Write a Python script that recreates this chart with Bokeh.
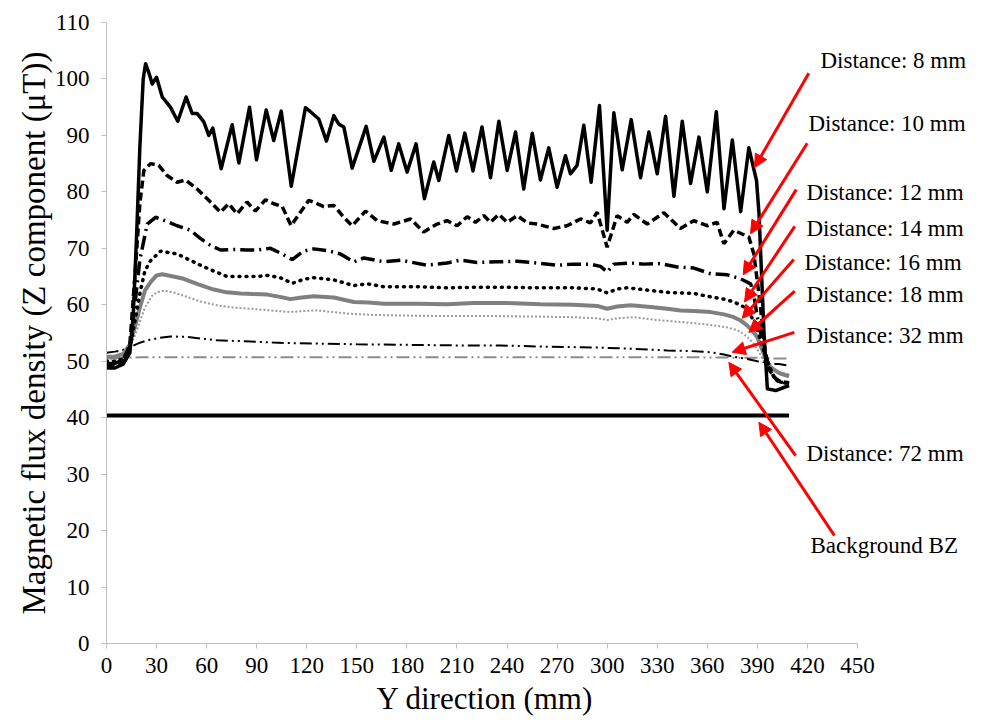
from bokeh.plotting import figure
from bokeh.models import Range1d, SingleIntervalTicker, Arrow, NormalHead, ColumnDataSource, Title
from bokeh.core.properties import value
from bokeh.embed import file_html
from bokeh.resources import INLINE

# ---- measured Z-component flux density (uT) along the Y direction (mm) ----
x_8mm = [0, 5, 10, 14, 16, 18, 20, 22, 23.4, 25.5, 27.4, 30, 33.4, 38.3, 42.7, 47.7, 51.3, 54.3,
         58.3, 61.3, 63.7, 68.7, 75.3, 79.3, 85.7, 89.9, 95.7, 100.2, 104.7, 110.7, 119.2, 122.2,
         127.2, 131.8, 136.2, 139.2, 142.2, 147.2, 155.6, 160.2, 166.2, 170.6, 175.1, 180.1, 185.5,
         190.5, 196.1, 199.1, 205.1, 209.7, 214.7, 219.6, 225.0, 230.1, 235.1, 240.1, 245.1, 250.0,
         255.1, 260.0, 265.0, 270.0, 275.0, 278.0, 282.0, 286.0, 290.4, 295.4, 300.0, 304.0, 309.0,
         314.4, 320.0, 325.0, 330.0, 335.0, 340.0, 345.0, 350.0, 355.0, 360.0, 365.4, 370.0, 375.0,
         380.0, 384.9, 389.5, 391.0, 392.5, 394.0, 396.0, 401.0, 409.0]
y_8mm = [48.8, 48.8, 49.5, 51.5, 58, 72, 88, 100, 102.7, 101, 99.1, 100.3, 96.8, 95.0, 92.5, 96.8, 93.9, 93.9,
         92.4, 90.0, 91.3, 84.1, 91.9, 85.1, 95.0, 85.7, 94.5, 89.1, 94.3, 81.0, 94.9, 94.2,
         92.9, 89.0, 93.5, 92.0, 91.5, 84.2, 91.6, 85.4, 89.7, 83.8, 88.5, 83.5, 88.5,
         78.8, 85.3, 82.0, 90.0, 83.7, 90.4, 83.7, 91.5, 82.5, 92.5, 83.8, 90.6, 80.5,
         90.4, 82.1, 87.8, 80.8, 86.4, 83.2, 84.7, 91.8, 81.7, 95.3, 73.2, 94.0, 83.9,
         92.8, 82.5, 90.6, 83.2, 93.4, 79.2, 92.5, 81.5, 89.7, 80.0, 94.2, 77.0, 89.2,
         76.5, 87.8, 82.0, 76.1, 65.5, 54.9, 45.1, 44.8, 45.7]

x_10mm = [0, 5, 10, 14, 17, 20, 22.4, 26.4, 31.3, 36.3, 42.3, 47.3, 54.3, 62.3, 68.3, 73.2, 78.2, 84.2,
          89.2, 95.3, 100.2, 105.3, 110.6, 116.2, 121.2, 130.2, 136.2, 142.2, 147.2, 155.2, 162.2,
          172.2, 182.2, 190.1, 198.1, 204.1, 210.1, 216.1, 221.1, 226.1, 230.1, 235.1, 240.1, 246.1,
          252.1, 258.1, 268.0, 276.0, 284.0, 290.0, 294.0, 300.0, 306.0, 312.0, 316.0, 324.0, 334.0,
          343.9, 351.9, 359.9, 365.9, 369.9, 375.9, 384.9, 387.9, 389.9, 391.9, 394.0, 397.0, 402.0, 409.0]
y_10mm = [49.3, 49.3, 50.0, 53.0, 65.0, 78.0, 83.8, 85.0, 84.7, 82.9, 81.7, 82.1, 80.5, 78.2, 76.4, 77.9, 76.1, 78.2,
          76.6, 78.6, 77.9, 77.4, 74.0, 76.4, 78.5, 77.4, 77.6, 75.5, 74.0, 76.6, 74.9,
          74.3, 75.2, 72.9, 74.3, 74.9, 74.0, 75.6, 74.6, 75.8, 74.6, 76.0, 74.6, 75.8,
          74.5, 74.3, 73.5, 74.0, 75.2, 74.5, 76.4, 70.2, 75.8, 74.6, 76.0, 74.3, 76.3,
          73.5, 74.9, 74.0, 74.6, 70.8, 73.2, 72.0, 69.0, 64.3, 59.6, 53.0, 48.5, 46.5, 46.2]

x_12mm = [0, 5, 10, 14, 17, 20, 24.4, 29.4, 36, 42.3, 50.3, 56, 62.3, 68.3, 76, 84.2, 90.3, 98.3, 105.3,
          111.3, 118, 124.2, 132.2, 140.2, 148.2, 154.2, 166.2, 176.2, 192.1, 204.1, 212, 222, 234, 246,
          258, 270, 280, 290, 296, 300, 304, 314, 322, 332, 342, 352, 362, 372, 380, 386, 388, 390, 392,
          394, 397, 400, 404, 409]
y_12mm = [49.6, 49.6, 50.3, 52.5, 60.0, 68.0, 74.3, 75.5, 74.8, 74.0, 73.2, 71.8, 70.5, 69.7, 69.8, 69.7, 69.7, 70.0, 69.0,
          68.0, 69.5, 69.9, 69.6, 69.0, 67.6, 68.3, 67.6, 67.9, 67.0, 67.4, 67.9, 67.5, 67.6, 67.7,
          67.4, 67.0, 67.2, 67.2, 66.8, 65.8, 67.2, 67.4, 67.2, 67.3, 66.7, 66.5, 65.5, 65.3, 64.6, 63.7, 61.5, 57.8, 55.0,
          51.9, 49.0, 47.2, 46.3, 46.0]

x_14mm = [0, 5, 10, 14, 17, 20, 23, 26.4, 32.4, 42.3, 56.3, 64, 72.3, 82, 90.3, 96.3, 104, 111.3, 118,
          124.2, 136.2, 148.2, 156.2, 166.2, 186.1, 204.1, 220, 240, 260, 280, 294, 300, 306, 312, 324,
          336, 344, 352, 362, 370, 376, 382, 385, 387.9, 390, 391.9, 395.8, 399.9, 404, 409]
y_14mm = [50.0, 50.0, 50.5, 52.5, 57.0, 62.0, 66.0, 67.8, 69.5, 69.0, 67.0, 66.0, 65.0, 65.0, 65.0, 65.2, 64.8, 63.8, 64.5,
          64.8, 64.4, 63.4, 63.7, 63.2, 63.2, 63.0, 63.1, 63.1, 63.0, 63.0, 62.8, 62.1, 62.8, 63.0, 62.6,
          62.2, 62.1, 62.0, 61.4, 61.0, 60.5, 59.6, 58.5, 57.2, 55.5, 53.7, 50.1, 47.2, 46.3, 46.0]

x_16mm = [0, 5, 10, 14, 17, 20, 23, 26.4, 30, 33.4, 40, 46.3, 55, 64.3, 72, 80.3, 88, 96.3, 104, 110.2,
          117, 124.2, 136.2, 148.2, 157, 166.2, 186.1, 204.1, 220, 240, 260, 280, 294, 300, 306, 314,
          326, 336, 344, 352, 362, 370, 375.9, 380, 384, 387, 389.9, 391.9, 393.9, 395.8, 397.8, 400.9,
          403.9, 409]
y_16mm = [50.8, 50.8, 51.3, 53.0, 56.0, 59.5, 62.5, 64.0, 65.2, 65.4, 65.0, 64.6, 63.6, 62.7, 62.2, 62.0, 61.9, 61.8, 61.4, 61.0,
          61.3, 61.5, 61.3, 60.5, 60.4, 60.2, 60.2, 60.1, 60.3, 60.3, 60.1, 60.0, 59.8, 59.3, 59.7, 59.9,
          59.6, 59.3, 59.0, 58.9, 58.7, 58.3, 57.8, 57.2, 56.3, 55.4, 54.3, 52.8, 51.3, 50.0, 49.0, 48.3,
          47.8, 47.3]

x_18mm = [0, 5, 10, 14, 17, 20, 23, 27, 30, 34.3, 40, 48.3, 56, 66.3, 76, 86.3, 98, 110.2, 118, 126.2,
          136, 146.2, 160, 176.2, 204.1, 230, 260, 280, 294, 300, 306, 316, 330, 346, 360, 371.9, 378,
          381.9, 385, 387.9, 391, 393.9, 396.9, 399.9, 404, 409]
y_18mm = [50.3, 50.3, 50.8, 52.5, 54.5, 57.0, 59.5, 61.5, 62.2, 62.5, 62.2, 61.4, 60.6, 59.9, 59.5, 59.3, 59.0, 58.7, 58.9, 59.0,
          58.7, 58.4, 58.2, 58.1, 58.0, 58.0, 57.9, 57.8, 57.6, 57.3, 57.6, 57.8, 57.3, 56.9, 56.5, 56.0, 55.5,
          54.8, 54.0, 53.1, 51.6, 50.1, 49.2, 48.4, 48.0, 47.7]

x_32mm = [0, 5, 10, 14, 19.4, 24.4, 31, 38.3, 48.3, 57, 66.3, 76, 86.3, 100, 112.2, 130, 150, 180, 210,
          236, 260, 280, 296, 316, 336, 350, 362, 370, 375.7, 384, 390, 394.8, 397.8, 402.8, 409]
y_32mm = [51.5, 51.7, 52.0, 52.5, 53.2, 53.7, 54.1, 54.4, 54.3, 54.0, 53.7, 53.6, 53.5, 53.3, 53.2, 53.1, 53.0, 52.9, 52.8,
          52.8, 52.6, 52.5, 52.4, 52.2, 51.9, 51.8, 51.6, 51.2, 50.8, 50.4, 50.0, 49.8, 49.5, 49.5, 49.2]

x_72mm = [0, 10, 20, 50, 100, 150, 200, 250, 300, 350, 390, 400, 409]
y_72mm = [50.5, 50.6, 50.7, 50.7, 50.7, 50.7, 50.7, 50.7, 50.7, 50.7, 50.6, 50.5, 50.5]

x_bg = [0, 409]
y_bg = [40.4, 40.4]

# ---- callouts: label text, label anchor, arrow tail and arrow head (data units) ----
callout_text = ["Distance: 8 mm", "Distance: 10 mm", "Distance: 12 mm", "Distance: 14 mm",
                "Distance: 16 mm", "Distance: 18 mm", "Distance: 32 mm", "Distance: 72 mm",
                "Background BZ"]
label_x = [427.8, 420.6, 419.4, 419.4, 418.2, 419.4, 419.4, 419.4, 421.8]
label_y = [103.3, 92.1, 79.9, 73.5, 67.5, 61.8, 54.6, 33.6, 17.4]
tail_x = [420.8, 419.9, 413.3, 412.4, 411.8, 412.4, 412.2, 412.9, 436.2]
tail_y = [101.0, 88.6, 80.4, 73.9, 68.0, 62.4, 55.1, 33.3, 19.1]
head_x = [388.3, 385.9, 381.5, 382.3, 380.9, 384.9, 374.9, 372.9, 390.9]
head_y = [84.3, 72.6, 65.3, 60.5, 57.6, 55.1, 51.6, 49.8, 39.2]

x_ticks_step = 30
y_ticks_step = 10
x_title = "Y direction (mm)"
y_title = "Magnetic flux density (Z component (μT))"

SERIF = "Liberation Serif"

p = figure(width=994, height=722,
           x_range=Range1d(0, 532.1), y_range=Range1d(0, 110),
           output_backend="svg", toolbar_location=None,
           min_border_left=106, min_border_right=0,
           min_border_top=22, min_border_bottom=79)
p.outline_line_color = None
p.xgrid.visible = False
p.ygrid.visible = False
p.background_fill_color = "white"
p.border_fill_color = "white"

# series
p.line(x_bg, y_bg, line_color="black", line_width=4)
p.line(x_72mm, y_72mm, line_color="#8c8c8c", line_width=2, line_dash="13 4 2 4 2 4")
p.line(x_32mm, y_32mm, line_color="black", line_width=2, line_dash="12 4 2 4 2 4")
p.line(x_18mm, y_18mm, line_color="#9a9a9a", line_width=2, line_dash="2 2")
p.line(x_16mm, y_16mm, line_color="#808080", line_width=4)
p.line(x_14mm, y_14mm, line_color="black", line_width=3.5, line_dash="1 6", line_cap="round")
p.line(x_12mm, y_12mm, line_color="black", line_width=3.5, line_dash="14 5 2 5")
p.line(x_10mm, y_10mm, line_color="black", line_width=3.5, line_dash="8 4")
p.line(x_8mm, y_8mm, line_color="black", line_width=3.5, line_join="round")

# axes
for ax in (p.xaxis[0], p.yaxis[0]):
    ax.axis_line_color = "#bfbfbf"
    ax.major_tick_line_color = "#bfbfbf"
    ax.minor_tick_line_color = None
    ax.major_tick_in = 0
    ax.major_tick_out = 5
    ax.major_label_text_font = SERIF
    ax.major_label_text_font_size = "23px"
    ax.major_label_text_color = "black"

p.xaxis[0].ticker = SingleIntervalTicker(interval=x_ticks_step)
p.xaxis[0].bounds = (0, 450)
p.xaxis[0].major_label_standoff = 9

p.yaxis[0].ticker = SingleIntervalTicker(interval=y_ticks_step)
p.yaxis[0].bounds = (0, 110)
p.yaxis[0].major_label_standoff = 12

# axis titles, placed under / beside the drawn axis spans
p.add_layout(Title(text=x_title, align="left", offset=270, standoff=6,
                   text_font=SERIF, text_font_size="31px", text_font_style="normal",
                   text_color="black"), "below")
p.add_layout(Title(text=y_title, align="center", standoff=0,
                   text_font=SERIF, text_font_size="33px", text_font_style="normal",
                   text_color="black"), "left")

# red callout arrows
for xs, ys, xe, ye in zip(tail_x, tail_y, head_x, head_y):
    p.add_layout(Arrow(x_start=xs, y_start=ys, x_end=xe, y_end=ye,
                       line_color="red", line_width=3,
                       end=NormalHead(size=13, fill_color="red", line_color="red", line_width=1)))

src = ColumnDataSource(dict(x=label_x, y=label_y, t=callout_text))
p.text("x", "y", text="t", source=src, text_font=value(SERIF), text_font_size="23px",
       text_baseline="middle", text_align="left", text_color="black")

open("out.html", "w").write(file_html(p, INLINE))
